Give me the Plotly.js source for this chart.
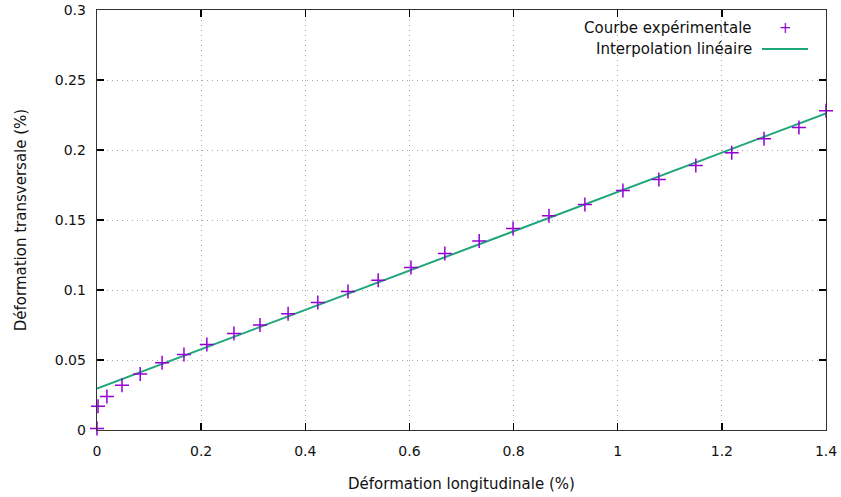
<!DOCTYPE html>
<html><head><meta charset="utf-8">
<script src="https://cdn.plot.ly/plotly-3.0.1.min.js"></script>
<style>body{margin:0;background:#fff}#chart{width:841px;height:497px}</style>
</head><body><div id="chart"></div>
<script>
const expX = [0, 0.002, 0.019, 0.048, 0.083, 0.125, 0.167, 0.211, 0.263, 0.313, 0.367, 0.424, 0.482, 0.540, 0.603, 0.668, 0.734, 0.799, 0.868, 0.937, 1.010, 1.079, 1.150, 1.219, 1.281, 1.348, 1.400];
const expY = [0.001, 0.017, 0.024, 0.032, 0.040, 0.048, 0.054, 0.061, 0.069, 0.075, 0.083, 0.091, 0.099, 0.107, 0.116, 0.126, 0.135, 0.144, 0.153, 0.161, 0.171, 0.179, 0.189, 0.198, 0.208, 0.216, 0.228];
const fitX = [0, 1.4];
const fitY = [0.0296, 0.2262];
const xTicks = [0, 0.2, 0.4, 0.6, 0.8, 1, 1.2, 1.4];
const xTickText = ["0", "0.2", "0.4", "0.6", "0.8", "1", "1.2", "1.4"];
const yTicks = [0, 0.05, 0.1, 0.15, 0.2, 0.25, 0.3];
const yTickText = ["0", "0.05", "0.1", "0.15", "0.2", "0.25", "0.3"];
const seriesNames = ["Courbe expérimentale", "Interpolation linéaire"];

const fam = "DejaVu Sans, Tahoma, sans-serif";
const tickFont = {family: fam, size: 14, color: "#111"};
const font = {family: fam, size: 15, color: "#111"};
const axisCommon = {
  showline: true, linecolor: "#333", linewidth: 1.3, mirror: "ticks",
  ticks: "inside", ticklen: 7, tickcolor: "#000", tickwidth: 1.3,
  showgrid: true, gridcolor: "#a8a8a8", griddash: "1px,4px", gridwidth: 1,
  zeroline: false, tickfont: tickFont, fixedrange: true, automargin: false
};
const traces = [
  {x: fitX, y: fitY, mode: "lines", name: seriesNames[1],
   line: {color: "#20a67c", width: 2}, showlegend: false},
  {x: expX, y: expY, mode: "markers", name: seriesNames[0],
   marker: {symbol: "cross-thin-open", size: 10, color: "#9400d3", line: {color: "#9400d3", width: 1.5}},
   showlegend: false, cliponaxis: false}
];
const layout = {
  width: 841, height: 497,
  margin: {l: 97, r: 15, t: 10, b: 67},
  paper_bgcolor: "#fff", plot_bgcolor: "#fff",
  font: font,
  xaxis: Object.assign({}, axisCommon, {range: [0, 1.4], tickvals: xTicks, ticktext: xTickText,
    ticklabelstandoff: 8,
    title: {text: "Déformation longitudinale (%)", font: font, standoff: 20}}),
  yaxis: Object.assign({}, axisCommon, {range: [0, 0.3], tickvals: yTicks, ticktext: yTickText,
    ticklabelstandoff: 7,
    title: {text: "Déformation transversale (%)", font: font, standoff: 24}}),
  annotations: [
    {xref: "paper", yref: "paper", x: (754-97)/729, y: (430-28)/420, xanchor: "right", yanchor: "middle",
     text: seriesNames[0], showarrow: false, font: font},
    {xref: "paper", yref: "paper", x: (754-97)/729, y: (430-49)/420, xanchor: "right", yanchor: "middle",
     text: seriesNames[1], showarrow: false, font: font},
    {xref: "paper", yref: "paper", x: (785-97)/729, y: (430-28)/420, xanchor: "center", yanchor: "middle",
     text: "+", showarrow: false, font: {family: fam, size: 15, color: "#9400d3"}}
  ],
  shapes: [
    {type: "line", xref: "paper", yref: "paper", x0: (762-97)/729, x1: (808-97)/729,
     y0: (430-49)/420, y1: (430-49)/420, line: {color: "#20a67c", width: 2}}
  ]
};
Plotly.newPlot("chart", traces, layout, {displayModeBar: false, staticPlot: true});
</script></body></html>
